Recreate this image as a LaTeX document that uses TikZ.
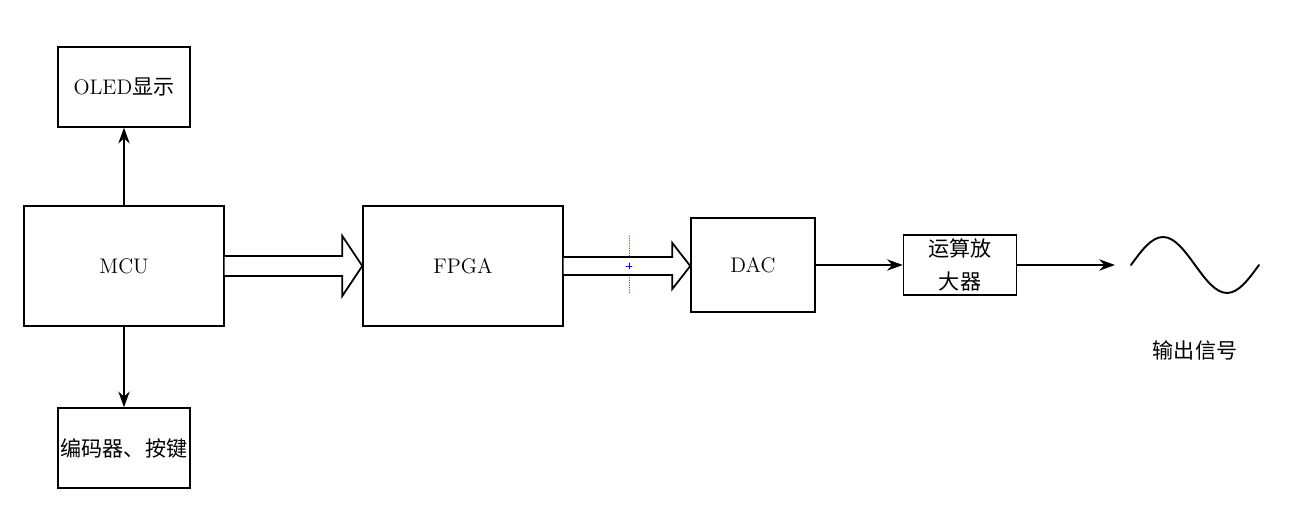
\documentclass[tikz,border=0pt]{standalone}
\usepackage{fontspec}
\newfontfamily\cjk{Noto Sans CJK SC}
\usetikzlibrary{arrows.meta,calc,positioning}
\tikzset{
  block/.style={draw=black, thick, fill=white, inner sep=0pt, align=center, font=\fontsize{12}{19}\selectfont},
  link/.style={thick, -{Stealth[length=9pt,width=6.5pt]}},
  hollow/.style={draw=black, line width=1pt, fill=white, line join=miter}
}
\begin{document}
\begin{tikzpicture}[line cap=round]
	%Frame
	\useasboundingbox (0,0) rectangle (25.82,10.2);

	%Blocks
	\node[block, minimum width=4cm, minimum height=2.4cm] (mcu) at (2.48,4.88) {MCU};
	\node[block, minimum width=2.64cm, minimum height=1.6cm] (oled) at (2.48,8.46) {OLED{\cjk 显示}};
	\node[block, minimum width=2.64cm, minimum height=1.6cm] (enc) at (2.48,1.24) {\cjk 编码器、按键};
	\node[block, minimum width=4cm, minimum height=2.4cm] (fpga) at (9.26,4.88) {FPGA};
	\node[block, minimum width=2.48cm, minimum height=1.88cm] (dac) at (15.06,4.9) {DAC};
	\node[block, minimum width=2.26cm, minimum height=1.2cm, font=\fontsize{12}{19}\selectfont\cjk] (amp) at (19.2,4.9) {运算放\\大器};

	%Output
	\coordinate (out) at (22.3,4.9);
	\coordinate (s0) at (22.62,4.9);
	\node[font=\fontsize{12}{14}\selectfont\cjk] (sig) at (23.9,3.2) {输出信号};

	%Thin arrows
	\draw[link] (mcu.north) -- (oled.south);
	\draw[link] (mcu.south) -- (enc.north);
	\draw[link] (dac.east) -- (amp.west);
	\draw[link] (amp.east) -- (out);

	%Wide arrows
	\path[hollow] ($(mcu.east)+(0,0.2)$) -- ($(fpga.west)+(-0.4,0.2)$) -- ($(fpga.west)+(-0.4,0.6)$)
	  -- (fpga.west) -- ($(fpga.west)+(-0.4,-0.6)$) -- ($(fpga.west)+(-0.4,-0.2)$) -- ($(mcu.east)+(0,-0.2)$);
	\coordinate (dtip) at (dac.west |- fpga.east);
	\draw[densely dotted, draw=brown!70!black, thin] (12.58,4.34) -- (12.58,5.5);
	\path[hollow] ($(fpga.east)+(0,0.18)$) -- ($(dtip)+(-0.36,0.18)$) -- ($(dtip)+(-0.36,0.46)$)
	  -- (dtip) -- ($(dtip)+(-0.36,-0.46)$) -- ($(dtip)+(-0.36,-0.18)$) -- ($(fpga.east)+(0,-0.18)$);
	\draw[blue, thin] (12.52,4.88) -- (12.64,4.88) (12.58,4.82) -- (12.58,4.94);

	%Sine
	\draw[line width=1.1pt] (s0) sin ++(0.64,0.56) cos ++(0.64,-0.56) sin ++(0.64,-0.56) cos ++(0.64,0.56);

\end{tikzpicture}
\end{document}
